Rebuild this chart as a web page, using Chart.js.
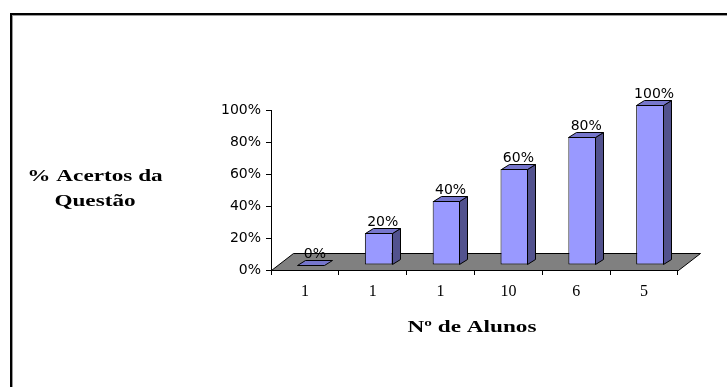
<!DOCTYPE html>
<html>
<head>
<meta charset="utf-8">
<script src="https://cdn.jsdelivr.net/npm/chart.js@4"></script>
<style>
  body { margin: 0; background: #fff; }
  canvas { display: block; }
</style>
</head>
<body>
<canvas id="grafico" width="727" height="387"></canvas>
<script>
// Dados do gráfico
var categorias = ['1', '1', '1', '10', '6', '5'];
var acertos = [0, 20, 40, 60, 80, 100];
var ticksY = [0, 20, 40, 60, 80, 100];
var tituloY = ['% Acertos da', 'Questão'];
var tituloX = 'Nº de Alunos';

// Profundidade do efeito 3D
var desloc = { x: 6, y: -5 };     // posição da face frontal das barras
var barraProf = { x: 8, y: -5 };  // lateral e topo das barras
var pisoProf = { x: 22, y: -17 }; // piso cinza

// Texto esticado na horizontal (estilo do gráfico original)
function textoLargo(ctx, texto, x, y, escala) {
    ctx.save();
    ctx.translate(x, y);
    ctx.scale(escala, 1);
    ctx.textAlign = 'center';
    ctx.textBaseline = 'middle';
    ctx.fillText(texto, 0, 0);
    ctx.restore();
}

function poligono(ctx, pts, cor) {
    ctx.beginPath();
    ctx.moveTo(pts[0][0], pts[0][1]);
    for (var i = 1; i < pts.length; i++) ctx.lineTo(pts[i][0], pts[i][1]);
    ctx.closePath();
    ctx.fillStyle = cor;
    ctx.fill();
    ctx.lineWidth = 1;
    ctx.strokeStyle = '#000';
    ctx.stroke();
}

var efeito3d = {
    id: 'efeito3d',
    beforeDraw: function (chart) {
        var ctx = chart.ctx;
        ctx.save();
        ctx.fillStyle = '#fff';
        ctx.fillRect(0, 0, chart.width, chart.height);
        // moldura (só topo e esquerda aparecem)
        ctx.fillStyle = '#000';
        ctx.fillRect(10, 13, chart.width - 10, 2);
        ctx.fillRect(10, 13, 2, chart.height - 13);
        ctx.fillStyle = '#999';
        ctx.fillRect(12, 15, chart.width - 12, 1);
        ctx.fillRect(12, 15, 1, chart.height - 15);
        ctx.restore();
    },
    beforeDatasetsDraw: function (chart) {
        var ctx = chart.ctx;
        var a = chart.chartArea;
        ctx.save();
        poligono(ctx, [
            [a.left + 0.5, a.bottom + 0.5],
            [a.right + 0.5, a.bottom + 0.5],
            [a.right + pisoProf.x + 0.5, a.bottom + pisoProf.y + 0.5],
            [a.left + pisoProf.x + 0.5, a.bottom + pisoProf.y + 0.5]
        ], '#808080');
        ctx.restore();
        ctx.save();
        ctx.translate(desloc.x, desloc.y);
    },
    afterDatasetsDraw: function (chart) {
        var ctx = chart.ctx;
        var meta = chart.getDatasetMeta(0);
        var dx = barraProf.x, dy = barraProf.y;
        meta.data.forEach(function (bar) {
            var l = Math.round(bar.x - bar.width / 2) + 0.5;
            var r = Math.round(bar.x + bar.width / 2) - 0.5;
            var t = Math.round(bar.y) + 0.5;
            var b = Math.round(bar.base) - 0.5;
            if (b > t) {
                poligono(ctx, [[r, t], [r + dx, t + dy], [r + dx, b + dy], [r, b]], '#52528e');
            }
            poligono(ctx, [[l, t], [l + dx, t + dy], [r + dx, t + dy], [r, t]], '#7676cc');
        });
        ctx.restore();

        // rótulos de valor sobre as barras
        ctx.save();
        ctx.fillStyle = '#000';
        ctx.font = '14px "DejaVu Sans"';
        ctx.textAlign = 'center';
        ctx.textBaseline = 'alphabetic';
        meta.data.forEach(function (bar, i) {
            var x = bar.x + desloc.x + dx / 2;
            var y = bar.y + desloc.y + dy - 2;
            ctx.fillText(acertos[i] + '%', x, y);
        });

        // títulos dos eixos
        ctx.font = 'bold 16px "Liberation Serif"';
        textoLargo(ctx, tituloY[0], 95, 177, 1.45);
        textoLargo(ctx, tituloY[1], 95, 202, 1.45);
        textoLargo(ctx, tituloX, 472, 328, 1.45);
        ctx.restore();
    }
};

document.addEventListener('DOMContentLoaded', function () {
    var ctx = document.getElementById('grafico').getContext('2d');
    new Chart(ctx, {
        type: 'bar',
        data: {
            labels: categorias,
            datasets: [{
                data: acertos,
                backgroundColor: '#9999ff',
                borderColor: '#000',
                borderWidth: 1,
                borderSkipped: false,
                categoryPercentage: 1,
                barPercentage: 0.41,
                clip: false
            }]
        },
        options: {
            responsive: false,
            animation: false,
            devicePixelRatio: 1,
            layout: { padding: { top: 110, right: 49, left: 0, bottom: 0 } },
            plugins: {
                legend: { display: false },
                tooltip: { enabled: false },
                title: { display: false }
            },
            scales: {
                x: {
                    grid: { offset: true, drawOnChartArea: false, color: '#000', tickLength: 5 },
                    border: { color: '#000' },
                    ticks: {
                        color: '#000',
                        font: { family: 'Liberation Serif', size: 16 },
                        padding: 7,
                        maxRotation: 0,
                        autoSkip: false
                    },
                    afterFit: function (s) { s.height = 117; }
                },
                y: {
                    min: 0,
                    max: 100,
                    afterBuildTicks: function (s) {
                        s.ticks = ticksY.map(function (v) { return { value: v }; });
                    },
                    grid: { drawOnChartArea: false, color: '#000', tickLength: 5 },
                    border: { color: '#000' },
                    ticks: {
                        color: '#000',
                        font: { family: 'DejaVu Sans', size: 14 },
                        padding: 5,
                        callback: function (v) { return v + '%'; }
                    },
                    afterFit: function (s) { s.width = 271; }
                }
            }
        },
        plugins: [efeito3d]
    });
});
</script>
</body>
</html>
